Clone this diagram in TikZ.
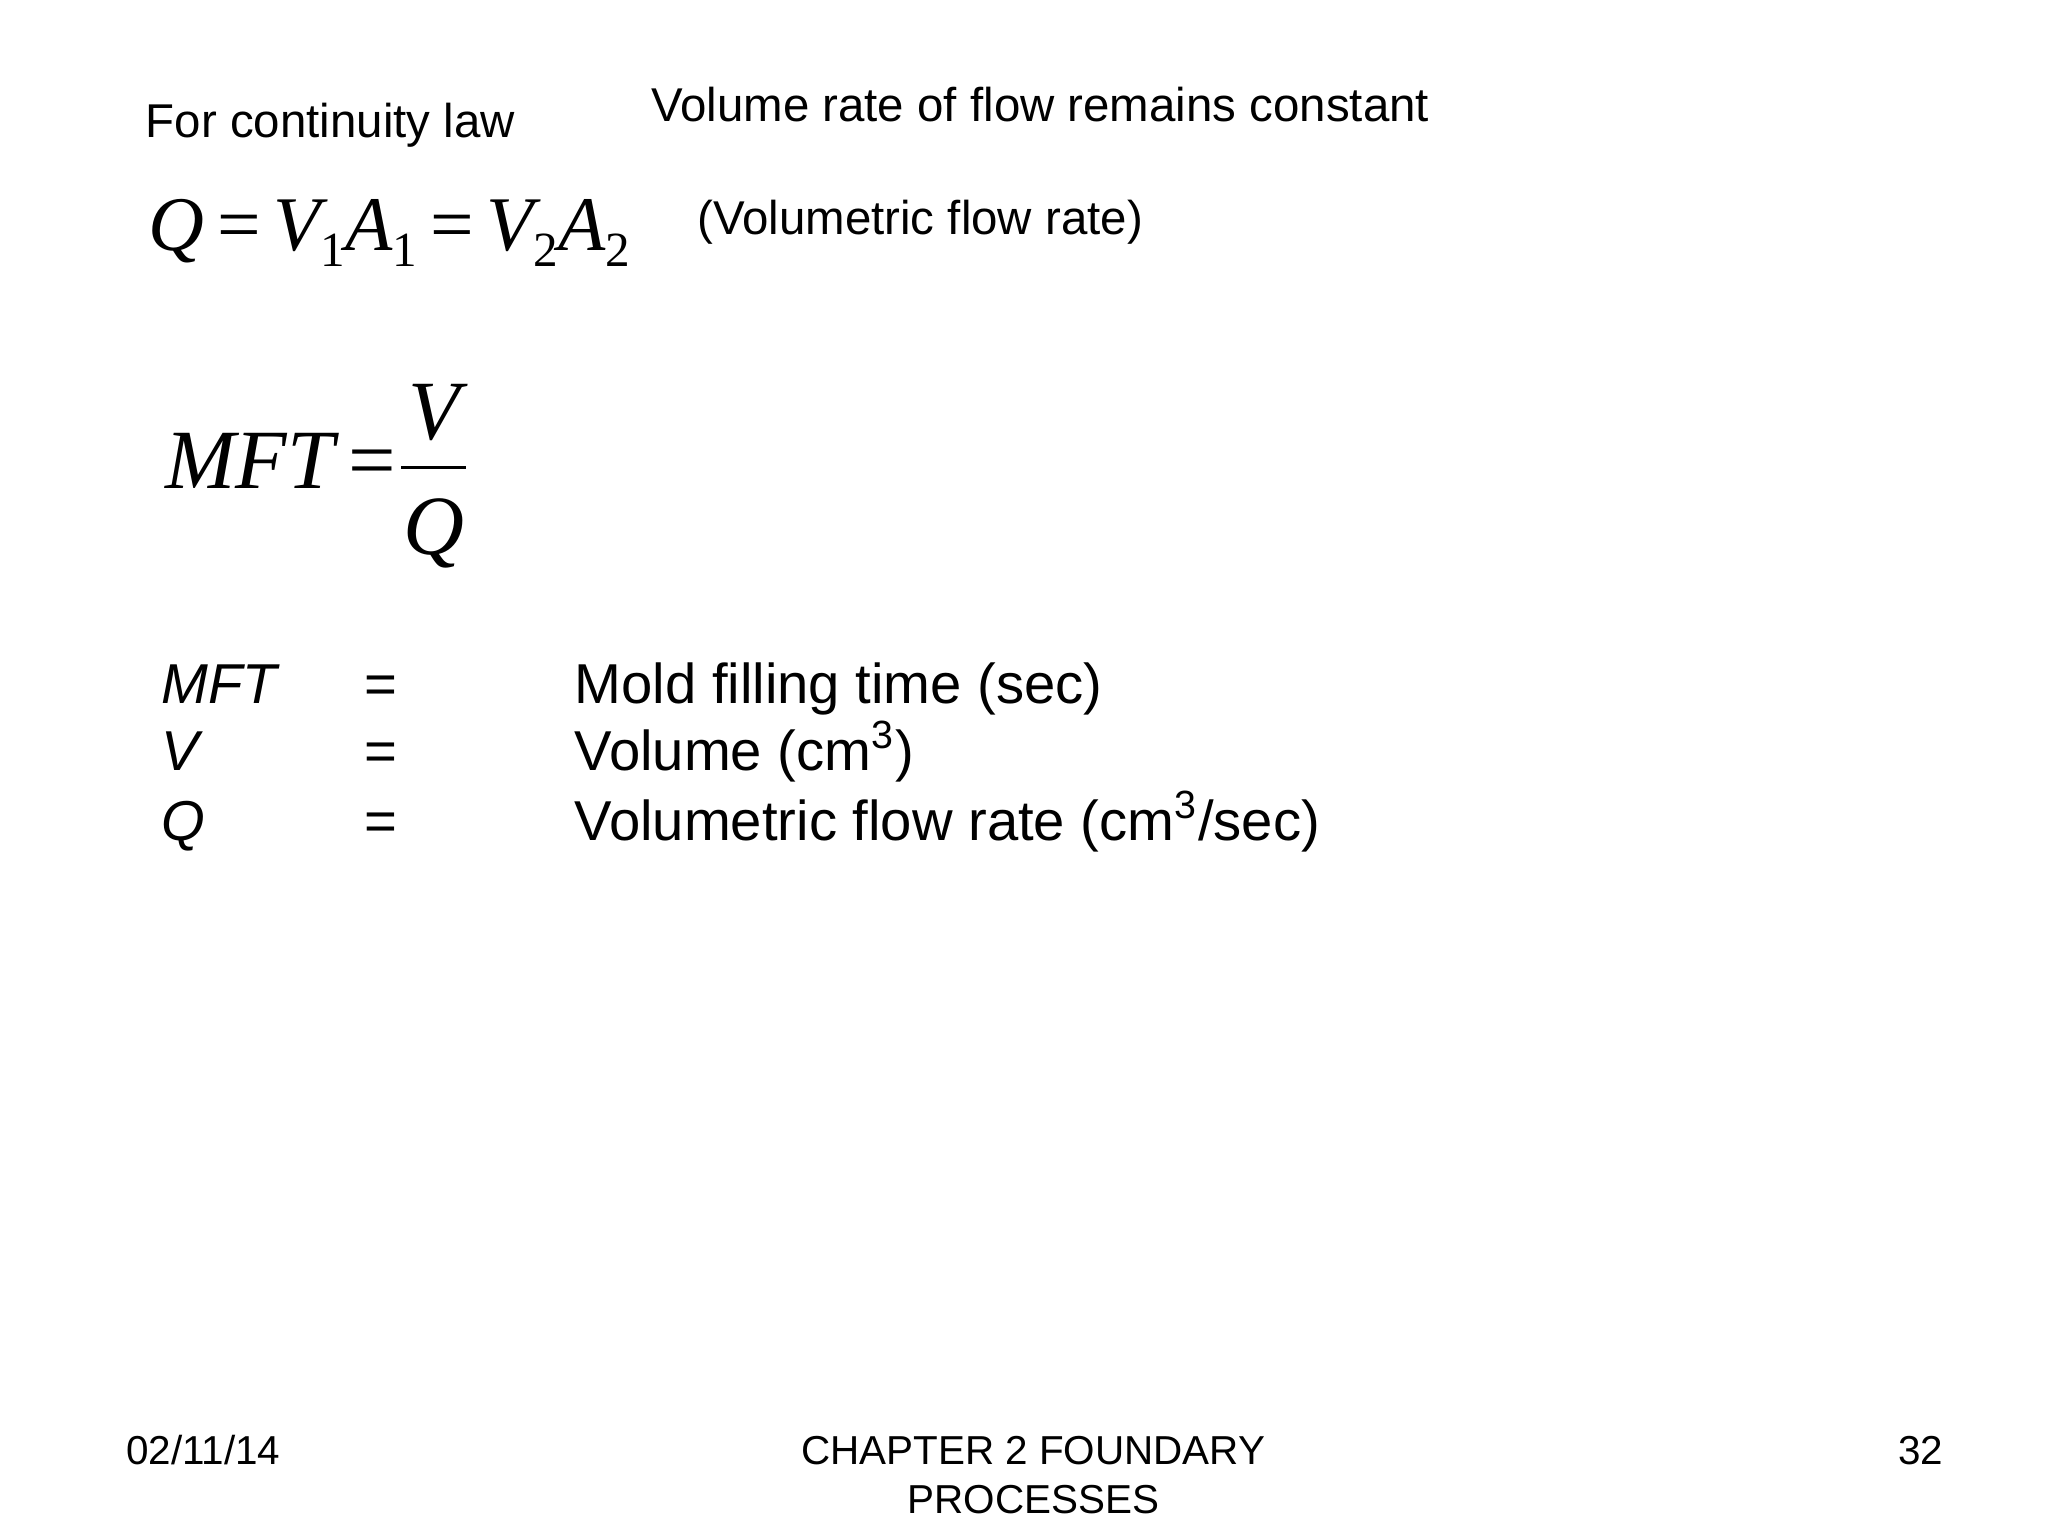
\documentclass[tikz,border=0pt]{standalone}
\usepackage{fontspec}
\setmainfont{Liberation Sans}
\newfontfamily\tms{Liberation Serif}
\newcommand{\mysb}[1]{\raisebox{-0.45ex}{\fontsize{14}{14}\selectfont\upshape #1}}
\begin{document}
\begin{tikzpicture}[x=0.0132cm,y=-0.0132cm,
  txt/.style={inner sep=0pt,anchor=base west},
  big/.style={txt,font=\fontsize{16}{18}\selectfont},
  mid/.style={txt,font=\fontsize{13.5}{16}\selectfont},
  foot/.style={inner sep=0pt,anchor=base,font=\fontsize{11.5}{13}\selectfont}]
\useasboundingbox (0,0) rectangle (1552,1164);
\node[mid] (a) at (110,104) {For continuity law};
\node[mid] (b) at (493,92) {Volume rate of flow remains constant};
\node[txt,font=\tms\fontsize{22}{24}\selectfont] (eq) at (112,190) {\itshape Q\,\upshape=\,\itshape V\mysb{1}A\mysb{1}\,\upshape=\,\itshape V\mysb{2}A\mysb{2}};
\node[mid] (c) at (528,178) {(Volumetric flow rate)};
\node[txt,font=\tms\fontsize{24}{26}\selectfont] (m) at (125,370) {\itshape MFT\,\upshape=};
\node[txt,anchor=base,font=\tms\itshape\fontsize{24}{26}\selectfont] (num) at (329,333) {V};
\node[txt,anchor=base,font=\tms\itshape\fontsize{24}{26}\selectfont] (den) at (329,420) {Q};
\draw[line width=0.8pt] (304,354) -- (353,354);
\node[big] (r1a) at (122,533) {\itshape MFT};
\node[big] (r1b) at (276,533) {=};
\node[big] (r1c) at (435,533) {Mold filling time (sec)};
\node[big] (r2a) at (122,584) {\itshape V};
\node[big] (r2b) at (276,584) {=};
\node[big] (r2c) at (435,584) {Volume (cm\textsuperscript{3})};
\node[big] (r3a) at (122,637) {\itshape Q};
\node[big] (r3b) at (276,637) {=};
\node[big] (r3c) at (435,637) {Volumetric flow rate (cm\textsuperscript{3}/sec)};
\node[foot,anchor=base west] (f1) at (95,1110) {02/11/14};
\node[foot] (f2) at (783,1110) {CHAPTER 2 FOUNDARY};
\node[foot] (f3) at (783,1147) {PROCESSES};
\node[foot,anchor=base east] (f4) at (1473,1110) {32};
\end{tikzpicture}
\end{document}
